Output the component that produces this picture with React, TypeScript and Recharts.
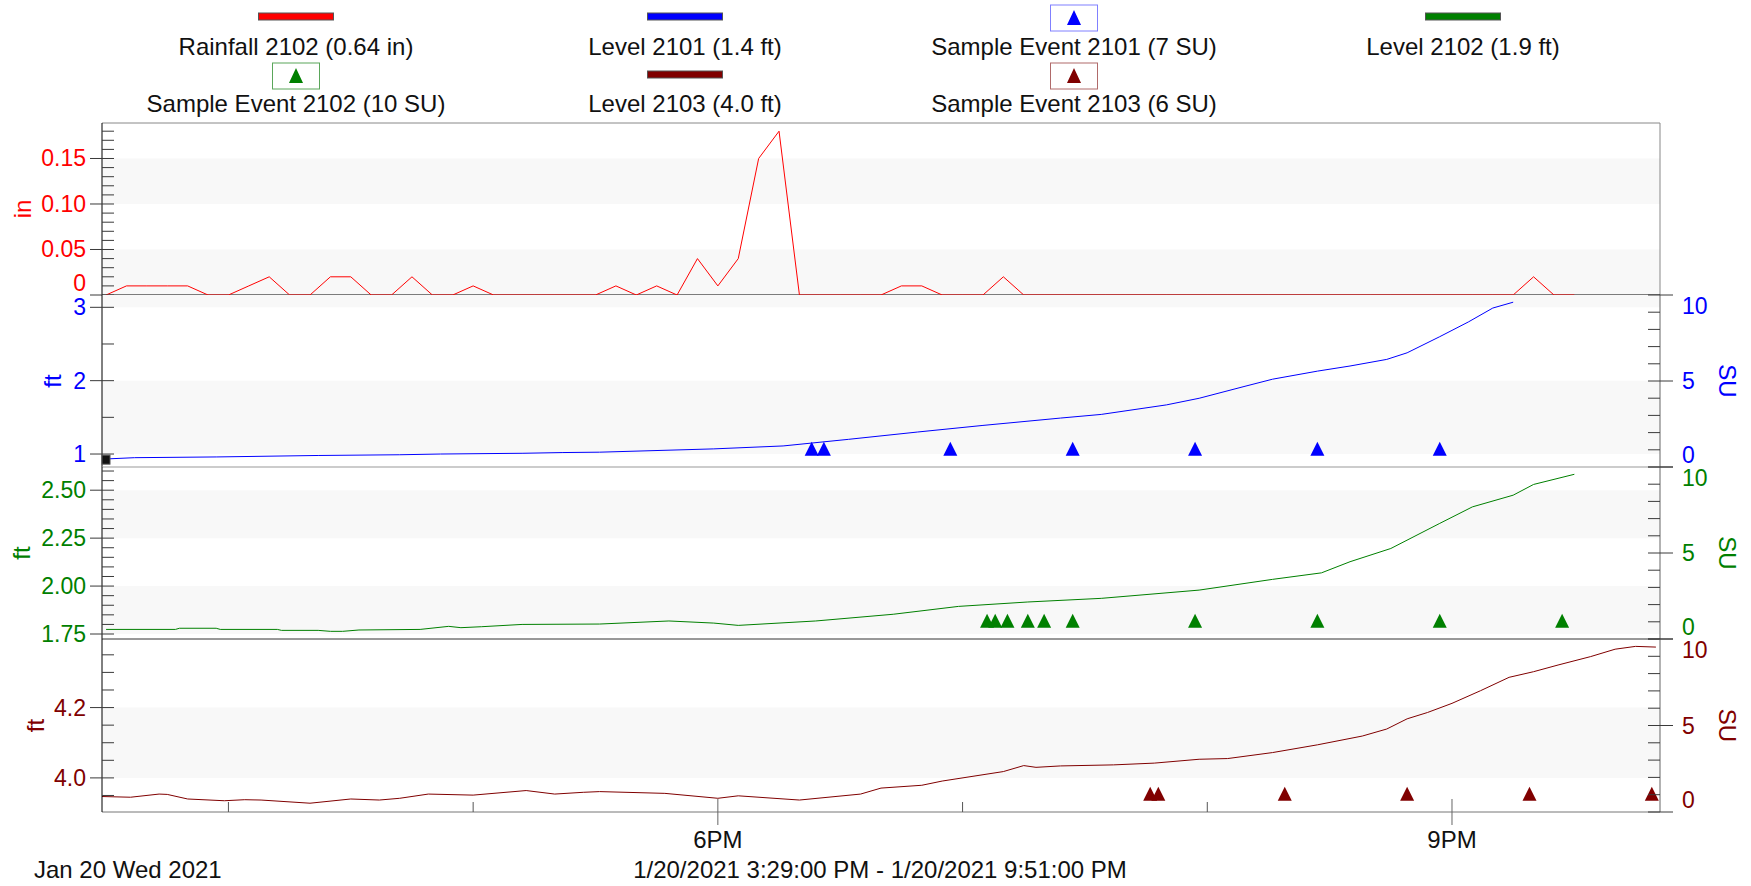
import React from "react";
import {
  ComposedChart,
  Line,
  Scatter,
  XAxis,
  YAxis,
  ReferenceArea,
  ReferenceLine,
  ReferenceDot,
} from "recharts";

const FONT = "'Liberation Sans', Arial, Helvetica, sans-serif";
const FS = 23; // tick numbers
const FS_TEXT = 24; // legend, titles, dates
const W = 1751;
const H = 886;
const LEFT_W = 102;
const RIGHT_W = 91;
const BAND = "#f8f8f8";

const RED = "#ff0000";
const BLUE = "#0000ff";
const GREEN = "#008000";
const MAROON = "#800000";

// time axis (clock strings, converted to minutes of day)
const T_START = "15:29";
const T_END = "21:51";
const HOUR_TICKS = ["16:00", "17:00", "18:00", "19:00", "20:00", "21:00"];
const HOUR_LABELS = ["", "", "6PM", "", "", "9PM"];

// Rainfall 2102 (in), 5 minute totals
const rainTimes = [
  "15:30", "15:35", "15:40", "15:45", "15:50", "15:55",
  "16:00", "16:05", "16:10", "16:15", "16:20", "16:25", "16:30", "16:35", "16:40", "16:45", "16:50", "16:55",
  "17:00", "17:05", "17:10", "17:15", "17:20", "17:25", "17:30", "17:35", "17:40", "17:45", "17:50", "17:55",
  "18:00", "18:05", "18:10", "18:15", "18:20", "18:25", "18:30", "18:35", "18:40", "18:45", "18:50", "18:55",
  "19:00", "19:05", "19:10", "19:15", "19:20", "19:25", "19:30", "19:35", "19:40", "19:45", "19:50", "19:55",
  "20:00", "20:05", "20:10", "20:15", "20:20", "20:25", "20:30", "20:35", "20:40", "20:45", "20:50", "20:55",
  "21:00", "21:05", "21:10", "21:15", "21:20", "21:25", "21:30",
];
const rainIn = [
  0, 0.01, 0.01, 0.01, 0.01, 0,
  0, 0.01, 0.02, 0, 0, 0.02, 0.02, 0, 0, 0.02, 0, 0,
  0.01, 0, 0, 0, 0, 0, 0, 0.01, 0, 0.01, 0, 0.04,
  0.01, 0.04, 0.15, 0.18, 0, 0, 0, 0, 0, 0.01, 0.01, 0,
  0, 0, 0.02, 0, 0, 0, 0, 0, 0, 0, 0, 0,
  0, 0, 0, 0, 0, 0, 0, 0, 0, 0, 0, 0,
  0, 0, 0, 0, 0.02, 0, 0,
];

// Level 2101 (ft)
const lvl2101Times = [
  "15:29", "15:37", "15:57", "16:22", "16:42", "16:52", "17:12", "17:22", "17:31", "17:59",
  "18:16", "18:32", "18:49", "19:05", "19:24", "19:34", "19:50", "19:58", "20:09", "20:16",
  "20:27", "20:35", "20:44", "20:49", "20:57", "21:04", "21:10", "21:15",
];
const lvl2101Ft = [
  0.93, 0.95, 0.96, 0.98, 0.99, 1.0, 1.01, 1.02, 1.025, 1.07,
  1.11, 1.2, 1.3, 1.39, 1.49, 1.54, 1.67, 1.76, 1.92, 2.02,
  2.13, 2.2, 2.29, 2.38, 2.6, 2.8, 2.99, 3.07,
];

// Level 2102 (ft)
const lvl2102Times = [
  "15:30", "15:47", "15:48", "15:57", "15:58", "16:12", "16:13", "16:22", "16:25", "16:28",
  "16:32", "16:47", "16:54", "16:57", "17:02", "17:12", "17:31", "17:48", "17:59", "18:05",
  "18:24", "18:43", "18:59", "19:16", "19:34", "19:58", "20:16", "20:28", "20:35", "20:45",
  "20:57", "21:05", "21:15", "21:20", "21:30",
];
const lvl2102Ft = [
  1.774, 1.774, 1.78, 1.78, 1.774, 1.774, 1.769, 1.769, 1.764, 1.764,
  1.771, 1.774, 1.79, 1.783, 1.788, 1.8, 1.802, 1.818, 1.807, 1.795,
  1.818, 1.853, 1.894, 1.917, 1.936, 1.979, 2.035, 2.069, 2.127, 2.196,
  2.327, 2.413, 2.474, 2.53, 2.583,
];

// Level 2103 (ft)
const lvl2103Times = [
  "15:29", "15:36", "15:43", "15:45", "15:50", "15:59", "16:04", "16:08", "16:20", "16:30",
  "16:37", "16:42", "16:49", "17:00", "17:13", "17:20", "17:27", "17:31", "17:47", "18:00",
  "18:05", "18:20", "18:35", "18:40", "18:50", "18:55", "19:10", "19:15", "19:18", "19:24",
  "19:37", "19:47", "19:58", "20:05", "20:16", "20:27", "20:38", "20:44", "20:49", "20:54",
  "21:00", "21:07", "21:14", "21:20", "21:26", "21:34", "21:40", "21:45", "21:50",
];
const lvl2103Ft = [
  3.947, 3.945, 3.954, 3.953, 3.94, 3.935, 3.938, 3.937, 3.928, 3.94,
  3.937, 3.942, 3.954, 3.951, 3.964, 3.954, 3.959, 3.961, 3.956, 3.942,
  3.949, 3.937, 3.954, 3.971, 3.979, 3.991, 4.018, 4.035, 4.03, 4.034,
  4.037, 4.042, 4.053, 4.055, 4.072, 4.094, 4.119, 4.139, 4.168, 4.186,
  4.212, 4.248, 4.286, 4.302, 4.321, 4.345, 4.366, 4.374, 4.372,
];

// Sample events (1 SU each)
const ev2101Times = ["18:23", "18:26", "18:57", "19:27", "19:57", "20:27", "20:57"];
const ev2101Su = [1, 1, 1, 1, 1, 1, 1];
const ev2102Times = ["19:06", "19:08", "19:11", "19:16", "19:20", "19:27", "19:57", "20:27", "20:57", "21:27"];
const ev2102Su = [1, 1, 1, 1, 1, 1, 1, 1, 1, 1];
const ev2103Times = ["19:46", "19:48", "20:19", "20:49", "21:19", "21:49"];
const ev2103Su = [1, 1, 1, 1, 1, 1];

// axes
const rainDomain = [0, 0.189];
const rainTicks = [0, 0.01, 0.02, 0.03, 0.04, 0.05, 0.06, 0.07, 0.08, 0.09, 0.1, 0.11, 0.12, 0.13, 0.14, 0.15, 0.16, 0.17, 0.18];
const rainLabels = [0, 0.05, 0.1, 0.15];
const rainBands = [[0, 0.05], [0.1, 0.15]];

const ft2101Domain = [0.823, 3.168];
const ft2101Ticks = [1, 1.5, 2, 2.5, 3];
const ft2101Labels = [1, 2, 3];
const ft2101Bands = [[1, 2], [3, 4]];

const ft2102Domain = [1.724, 2.621];
const ft2102Ticks = [1.75, 1.8, 1.85, 1.9, 1.95, 2, 2.05, 2.1, 2.15, 2.2, 2.25, 2.3, 2.35, 2.4, 2.45, 2.5, 2.55, 2.6];
const ft2102Labels = [1.75, 2, 2.25, 2.5];
const ft2102Bands = [[1.75, 2], [2.25, 2.5]];

const ft2103Domain = [3.903, 4.395];
const ft2103Ticks = [3.95, 4, 4.05, 4.1, 4.15, 4.2, 4.25, 4.3, 4.35];
const ft2103Labels = [4, 4.2];
const ft2103Bands = [[4, 4.2]];

const suDomain = [0, 10];
const suTicks = [0, 1, 2, 3, 4, 5, 6, 7, 8, 9, 10];
const suLabels = [0, 5, 10];

// legend
const legendLabels = [
  "Rainfall 2102 (0.64 in)",
  "Level 2101 (1.4 ft)",
  "Sample Event 2101 (7 SU)",
  "Level 2102 (1.9 ft)",
  "Sample Event 2102 (10 SU)",
  "Level 2103 (4.0 ft)",
  "Sample Event 2103 (6 SU)",
];
const legendColors = [RED, BLUE, BLUE, GREEN, GREEN, MAROON, MAROON];
const legendKinds = ["line", "line", "marker", "line", "marker", "line", "marker"];
const legendBoxBorders = ["", "", "#8080ff", "", "#5aa65a", "", "#b06a6a"];

const toMin = (s: string) => {
  const [h, m] = s.split(":").map(Number);
  return h * 60 + m;
};
const pairs = (times: string[], vals: number[]) => times.map((t, i) => ({ t: toMin(t), v: vals[i] }));

const X_DOMAIN = [toMin(T_START), toMin(T_END)];
const xTicks = HOUR_TICKS.map(toMin);

const rain = pairs(rainTimes, rainIn);
const lvl2101 = pairs(lvl2101Times, lvl2101Ft);
const lvl2102 = pairs(lvl2102Times, lvl2102Ft);
const lvl2103 = pairs(lvl2103Times, lvl2103Ft);
const ev2101 = pairs(ev2101Times, ev2101Su);
const ev2102 = pairs(ev2102Times, ev2102Su);
const ev2103 = pairs(ev2103Times, ev2103Su);

const isIn = (list: number[], v: number) => list.some((l) => Math.abs(l - v) < 1e-6);

function makeLeftTick(labels: number[], color: string, digits: number, zeroShift = 0) {
  return (p: any) => {
    const { x, y, payload } = p;
    const v = payload.value;
    const major = isIn(labels, v);
    const dy = v === 0 ? zeroShift : 0;
    return (
      <g>
        <line x1={major ? x - 12 : x} x2={x + 12} y1={y} y2={y} stroke="#3a3a3a" />
        {major && (
          <text x={x - 16} y={y + dy} textAnchor="end" dominantBaseline="central" fill={color} fontSize={FS} fontFamily={FONT}>
            {v === 0 ? "0" : v.toFixed(digits)}
          </text>
        )}
      </g>
    );
  };
}

function makeRightTick(color: string) {
  return (p: any) => {
    const { x, y, payload } = p;
    const v = payload.value;
    const major = isIn(suLabels, v);
    const dy = v === 10 ? 11 : v === 0 ? -12 : 0;
    return (
      <g>
        <line x1={x - 12} x2={major ? x + 13 : x} y1={y} y2={y} stroke="#3a3a3a" />
        {major && (
          <text x={x + 22} y={y + dy} textAnchor="start" dominantBaseline="central" fill={color} fontSize={FS} fontFamily={FONT}>
            {v}
          </text>
        )}
      </g>
    );
  };
}

const xTick = (p: any) => {
  const { x, y, payload } = p;
  const idx = xTicks.indexOf(payload.value);
  const label = idx >= 0 ? HOUR_LABELS[idx] : "";
  return (
    <g>
      {label ? (
        <line x1={x} x2={x} y1={y - 13} y2={y + 13} stroke="#666" />
      ) : (
        <line x1={x} x2={x} y1={y - 10} y2={y} stroke="#555" />
      )}
      {label && (
        <text x={x} y={y + 36} textAnchor="middle" fill="#111" fontSize={FS_TEXT} fontFamily={FONT}>
          {label}
        </text>
      )}
    </g>
  );
};

const axisTitle = (text: string, cx: number, color: string, angle: number) => (p: any) => {
  const vb = p.viewBox || {};
  const cy = vb.y + vb.height / 2;
  return (
    <text
      x={cx}
      y={cy}
      transform={`rotate(${angle} ${cx} ${cy})`}
      textAnchor="middle"
      dominantBaseline="central"
      fill={color}
      fontSize={FS_TEXT}
      fontFamily={FONT}
    >
      {text}
    </text>
  );
};

const triangle = (color: string) => (p: any) => {
  const { cx, cy } = p;
  return <polygon points={`${cx},${cy - 8} ${cx - 7},${cy + 6} ${cx + 7},${cy + 6}`} fill={color} />;
};

const yCommon = {
  type: "number" as const,
  allowDataOverflow: true,
  interval: 0 as const,
  tickLine: false,
  tickSize: 0,
  tickMargin: 0,
};

function Bands({ id, bands }: { id: string; bands: number[][] }) {
  return (
    <>
      {bands.map(([a, b], i) => (
        <ReferenceArea key={i} yAxisId={id} y1={a} y2={b} fill={BAND} fillOpacity={1} stroke="none" ifOverflow="hidden" />
      ))}
    </>
  );
}

function Legend() {
  const colX = [296, 685, 1074, 1463];
  const lineY = [16.5, 74.5];
  const boxY = [18, 76];
  const textY = [55, 112];
  return (
    <svg width={W} height={125} style={{ position: "absolute", left: 0, top: 0 }}>
      {legendLabels.map((lab, i) => {
        const col = i % 4;
        const row = Math.floor(i / 4);
        const cx = colX[col];
        const color = legendColors[i];
        return (
          <g key={lab}>
            {legendKinds[i] === "line" ? (
              <rect x={cx - 37.5} y={lineY[row] - 3.5} width={75} height={7} fill={color} stroke="#555" strokeWidth={1} />
            ) : (
              <g>
                <rect x={cx - 23.5} y={boxY[row] - 13} width={47} height={26} fill="#fff" stroke={legendBoxBorders[i]} strokeWidth={1} />
                <polygon
                  points={`${cx},${boxY[row] - 8} ${cx - 7},${boxY[row] + 7} ${cx + 7},${boxY[row] + 7}`}
                  fill={color}
                />
              </g>
            )}
            <text x={cx} y={textY[row]} textAnchor="middle" fill="#111" fontSize={FS_TEXT} fontFamily={FONT}>
              {lab}
            </text>
          </g>
        );
      })}
    </svg>
  );
}

function Box({ top, height, children }: { top: number; height: number; children: React.ReactNode }) {
  return <div style={{ position: "absolute", left: 0, top, width: W, height }}>{children}</div>;
}

export default function App() {
  return (
    <div style={{ position: "absolute", left: 0, top: 0, width: W, height: H, background: "#fff", overflow: "hidden" }}>
      <Legend />

      {/* Rainfall 2102 */}
      <Box top={103} height={212}>
        <ComposedChart width={W} height={212} margin={{ top: 20, bottom: 20, left: 0, right: RIGHT_W }}>
          <XAxis type="number" dataKey="t" domain={X_DOMAIN} allowDataOverflow hide />
          <YAxis
            yAxisId="in"
            orientation="left"
            width={LEFT_W}
            domain={rainDomain}
            ticks={rainTicks}
            axisLine={{ stroke: "#000" }}
            tick={makeLeftTick(rainLabels, RED, 2, -12)}
            label={axisTitle("in", 22, RED, -90)}
            {...yCommon}
          />
          <Bands id="in" bands={rainBands} />
          <ReferenceLine yAxisId="in" y={rainDomain[1]} stroke="#888" ifOverflow="visible" />
          <ReferenceLine yAxisId="in" x={X_DOMAIN[1]} stroke="#888" ifOverflow="visible" />
          <ReferenceLine yAxisId="in" y={0} stroke="#000" ifOverflow="visible" />
          <Line yAxisId="in" data={rain} dataKey="v" type="linear" stroke={RED} strokeWidth={1} dot={false} activeDot={false} isAnimationActive={false} />
        </ComposedChart>
      </Box>

      {/* Level 2101 / Sample Event 2101 */}
      <Box top={275} height={212}>
        <ComposedChart width={W} height={212} margin={{ top: 20, bottom: 20, left: 0, right: 0 }}>
          <XAxis type="number" dataKey="t" domain={X_DOMAIN} allowDataOverflow hide />
          <YAxis
            yAxisId="ft"
            orientation="left"
            width={LEFT_W}
            domain={ft2101Domain}
            ticks={ft2101Ticks}
            axisLine={{ stroke: "#000" }}
            tick={makeLeftTick(ft2101Labels, BLUE, 0)}
            label={axisTitle("ft", 52, BLUE, -90)}
            {...yCommon}
          />
          <YAxis
            yAxisId="su"
            orientation="right"
            width={RIGHT_W}
            domain={suDomain}
            ticks={suTicks}
            axisLine={{ stroke: "#666" }}
            tick={makeRightTick(BLUE)}
            label={axisTitle("SU", 1727, BLUE, 90)}
            {...yCommon}
          />
          <Bands id="ft" bands={ft2101Bands} />
          <Line yAxisId="ft" data={lvl2101} dataKey="v" type="linear" stroke={BLUE} strokeWidth={1} dot={false} activeDot={false} isAnimationActive={false} />
          <Scatter yAxisId="su" data={ev2101} dataKey="v" shape={triangle(BLUE)} isAnimationActive={false} />
          <ReferenceDot
            yAxisId="ft"
            x={lvl2101[0].t}
            y={lvl2101[0].v}
            ifOverflow="visible"
            shape={(p: any) => <rect x={p.cx} y={p.cy - 4} width={8} height={9} fill="#111" stroke="#555" />}
          />
        </ComposedChart>
      </Box>

      {/* Level 2102 / Sample Event 2102 */}
      <Box top={447} height={212}>
        <ComposedChart width={W} height={212} margin={{ top: 20, bottom: 20, left: 0, right: 0 }}>
          <XAxis type="number" dataKey="t" domain={X_DOMAIN} allowDataOverflow hide />
          <YAxis
            yAxisId="ft"
            orientation="left"
            width={LEFT_W}
            domain={ft2102Domain}
            ticks={ft2102Ticks}
            axisLine={{ stroke: "#000" }}
            tick={makeLeftTick(ft2102Labels, GREEN, 2)}
            label={axisTitle("ft", 21, GREEN, -90)}
            {...yCommon}
          />
          <YAxis
            yAxisId="su"
            orientation="right"
            width={RIGHT_W}
            domain={suDomain}
            ticks={suTicks}
            axisLine={{ stroke: "#666" }}
            tick={makeRightTick(GREEN)}
            label={axisTitle("SU", 1727, GREEN, 90)}
            {...yCommon}
          />
          <Bands id="ft" bands={ft2102Bands} />
          <ReferenceLine yAxisId="ft" y={ft2102Domain[1]} stroke="#999" ifOverflow="visible" />
          <Line yAxisId="ft" data={lvl2102} dataKey="v" type="linear" stroke={GREEN} strokeWidth={1} dot={false} activeDot={false} isAnimationActive={false} />
          <Scatter yAxisId="su" data={ev2102} dataKey="v" shape={triangle(GREEN)} isAnimationActive={false} />
        </ComposedChart>
      </Box>

      {/* Level 2103 / Sample Event 2103 */}
      <Box top={619} height={248}>
        <ComposedChart width={W} height={248} margin={{ top: 20, bottom: 0, left: 0, right: 0 }}>
          <XAxis
            type="number"
            dataKey="t"
            domain={X_DOMAIN}
            allowDataOverflow
            ticks={xTicks}
            interval={0}
            tickLine={false}
            tickSize={0}
            tickMargin={0}
            height={55}
            axisLine={{ stroke: "#777" }}
            tick={xTick}
          />
          <YAxis
            yAxisId="ft"
            orientation="left"
            width={LEFT_W}
            domain={ft2103Domain}
            ticks={ft2103Ticks}
            axisLine={{ stroke: "#000" }}
            tick={makeLeftTick(ft2103Labels, MAROON, 1)}
            label={axisTitle("ft", 35, MAROON, -90)}
            {...yCommon}
          />
          <YAxis
            yAxisId="su"
            orientation="right"
            width={RIGHT_W}
            domain={suDomain}
            ticks={suTicks}
            axisLine={{ stroke: "#666" }}
            tick={makeRightTick(MAROON)}
            label={axisTitle("SU", 1727, MAROON, 90)}
            {...yCommon}
          />
          <Bands id="ft" bands={ft2103Bands} />
          <ReferenceLine yAxisId="ft" y={ft2103Domain[1]} stroke="#333" ifOverflow="visible" />
          <Line yAxisId="ft" data={lvl2103} dataKey="v" type="linear" stroke={MAROON} strokeWidth={1} dot={false} activeDot={false} isAnimationActive={false} />
          <Scatter yAxisId="su" data={ev2103} dataKey="v" shape={triangle(MAROON)} isAnimationActive={false} />
        </ComposedChart>
      </Box>

      <svg width={W} height={46} style={{ position: "absolute", left: 0, top: 840 }}>
        <text x={34} y={38} fill="#111" fontSize={FS_TEXT} fontFamily={FONT}>
          Jan 20 Wed 2021
        </text>
        <text x={880} y={38} textAnchor="middle" fill="#111" fontSize={FS_TEXT} fontFamily={FONT}>
          1/20/2021 3:29:00 PM - 1/20/2021 9:51:00 PM
        </text>
      </svg>
    </div>
  );
}
